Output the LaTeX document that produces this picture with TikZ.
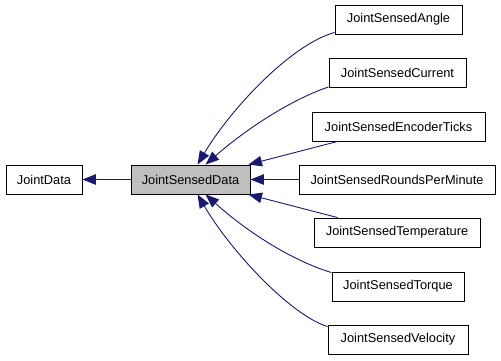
\documentclass[tikz,border=0pt]{standalone}
\usepackage{fontspec}
\setmainfont{Liberation Sans}
\usetikzlibrary{arrows.meta}
\definecolor{edgeblue}{HTML}{191970}
\definecolor{basegray}{HTML}{BFBFBF}
\tikzset{
  cls/.style={draw=black, line width=0.9pt, fill=white, rectangle, inner sep=0pt,
              minimum height=29pt, font=\fontsize{12.8}{15}\selectfont},
  edge/.style={draw=edgeblue, line width=0.9pt,
               {Triangle[length=13.5pt,width=10.5pt,fill=edgeblue]}-},
}
\begin{document}
\begin{tikzpicture}[x=1pt,y=-1pt]
  \useasboundingbox (0,0) rectangle (501,360);

  % class boxes
  \node[cls, minimum width=76pt] (jd) at (44,179.5) {JointData};
  \node[cls, minimum width=119pt, fill=basegray] (jsd) at (190.5,179.5) {JointSensedData};
  \node[cls, minimum width=127pt] (angle) at (398.5,19.5) {JointSensedAngle};
  \node[cls, minimum width=137pt] (current) at (397.5,73) {JointSensedCurrent};
  \node[cls, minimum width=173pt] (enc) at (398.5,126.5) {JointSensedEncoderTicks};
  \node[cls, minimum width=196pt] (rpm) at (397,179.5) {JointSensedRoundsPerMinute};
  \node[cls, minimum width=166pt] (temp) at (397,232.5) {JointSensedTemperature};
  \node[cls, minimum width=132pt] (torque) at (398,286.5) {JointSensedTorque};
  \node[cls, minimum width=140pt] (vel) at (398,339.5) {JointSensedVelocity};

  % inheritance edges
  \draw[edge] (jd.east) -- (jsd.west);
  \draw[edge] ([xshift=67pt]jsd.north west) .. controls (230,110) and (290,45) .. ([yshift=2pt]angle.south west);
  \draw[edge] ([xshift=75pt]jsd.north west) .. controls (245,130) and (290,100) .. ([yshift=1pt]current.south west);
  \draw[edge] ([xshift=-2pt]jsd.north east) -- ([xshift=26pt]enc.south west);
  \draw[edge] (jsd.east) -- (rpm.west);
  \draw[edge] ([xshift=-2pt]jsd.south east) -- ([xshift=24pt]temp.north west);
  \draw[edge] ([xshift=75pt]jsd.south west) .. controls (245,230) and (290,260) .. ([yshift=-1pt]torque.north west);
  \draw[edge] ([xshift=67pt]jsd.south west) .. controls (230,250) and (290,315) .. ([yshift=-2pt]vel.north west);
\end{tikzpicture}
\end{document}
